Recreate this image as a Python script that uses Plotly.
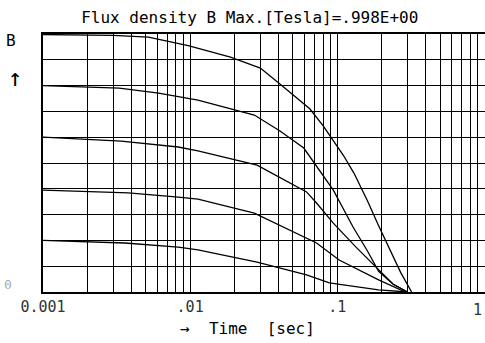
import plotly.graph_objects as go

# ---- data ----
t1 = [0.001, 0.003, 0.0052, 0.0097, 0.0188, 0.030, 0.040, 0.050, 0.065, 0.080, 0.095, 0.110, 0.130, 0.160, 0.190, 0.230, 0.270, 0.320]
b1 = [0.998, 0.995, 0.988, 0.955, 0.910, 0.868, 0.810, 0.765, 0.710, 0.645, 0.585, 0.530, 0.460, 0.355, 0.260, 0.160, 0.075, 0.0]

t2 = [0.001, 0.0033, 0.0061, 0.0113, 0.0273, 0.0408, 0.0592, 0.069, 0.094, 0.128, 0.160, 0.191, 0.240, 0.300]
b2 = [0.800, 0.790, 0.771, 0.744, 0.686, 0.624, 0.558, 0.504, 0.395, 0.252, 0.160, 0.080, 0.030, 0.0]

t3 = [0.001, 0.0034, 0.0083, 0.0113, 0.0285, 0.0618, 0.0723, 0.094, 0.134, 0.191, 0.240, 0.300]
b3 = [0.600, 0.585, 0.562, 0.547, 0.492, 0.388, 0.345, 0.267, 0.174, 0.085, 0.030, 0.0]

t4 = [0.001, 0.0038, 0.0083, 0.0113, 0.0273, 0.0618, 0.0723, 0.103, 0.191, 0.290]
b4 = [0.395, 0.384, 0.368, 0.360, 0.306, 0.209, 0.190, 0.124, 0.047, 0.0]

t5 = [0.001, 0.0036, 0.0083, 0.0113, 0.0285, 0.0618, 0.0883, 0.191, 0.300]
b5 = [0.200, 0.190, 0.174, 0.163, 0.116, 0.066, 0.035, 0.008, 0.0]

x_grid = [m * 10 ** e for e in (-3, -2, -1) for m in range(1, 10)] + [1.0]
x_labels = {0.001: "0.001", 0.01: ".01", 0.1: ".1"}
x_end_label = "1"
y_grid = [i / 10 for i in range(11)]

title_text = "Flux density B Max.[Tesla]=.998E+00"
x_title = "\u2192  Time  [sec]"

FONT = "DejaVu Sans Mono"

fig = go.Figure()
for t, b in [(t1, b1), (t2, b2), (t3, b3), (t4, b4), (t5, b5)]:
    fig.add_trace(go.Scatter(x=t, y=b, mode="lines",
                             line=dict(color="black", width=1.3),
                             showlegend=False, hoverinfo="skip"))

tick_text = [x_labels.get(round(v, 6), "") for v in x_grid]

fig.update_layout(
    width=485, height=343,
    margin=dict(l=43, r=0, t=34, b=51),
    paper_bgcolor="white", plot_bgcolor="white",
    font=dict(family=FONT, size=15, color="black"),
    title=dict(text=title_text, x=0.515, xref="container", xanchor="center",
               y=1 - 17 / 343, yref="container", yanchor="middle",
               font=dict(family=FONT, size=16, color="black")),
    xaxis=dict(type="log", range=[-3, 0.004], automargin=False,
               tickvals=x_grid, ticktext=tick_text, ticks="",
               showgrid=True, gridcolor="black", gridwidth=1.3,
               showline=True, linecolor="black", linewidth=1.5, mirror=True,
               zeroline=False, tickfont=dict(family=FONT, size=15, color="#333")),
    yaxis=dict(range=[0, 1], tickvals=y_grid, showticklabels=False, ticks="",
               automargin=False,
               showgrid=True, gridcolor="black", gridwidth=1.3,
               showline=True, linecolor="black", linewidth=1.5, mirror=True,
               zeroline=False),
)

fig.add_annotation(text=x_end_label, xref="paper", yref="paper",
                   x=1.0, y=-0.07, xanchor="right", yanchor="middle", xshift=-1,
                   showarrow=False, font=dict(family=FONT, size=15, color="#333"))
fig.add_annotation(text=x_title, xref="paper", yref="paper",
                   x=0.463, y=-0.14, xanchor="center", yanchor="middle",
                   showarrow=False, font=dict(family=FONT, size=16, color="black"))
fig.add_annotation(text="B", xref="paper", yref="paper",
                   x=-0.072, y=0.975, xanchor="center", yanchor="middle",
                   showarrow=False, font=dict(family=FONT, size=16, color="black"))
fig.add_annotation(text="\u2191", xref="paper", yref="paper",
                   x=-0.064, y=0.83, xanchor="center", yanchor="middle",
                   showarrow=False, font=dict(family=FONT, size=24, color="black"))
fig.add_annotation(text="0", xref="paper", yref="paper",
                   x=-0.08, y=0.03, xanchor="center", yanchor="middle",
                   showarrow=False, font=dict(family=FONT, size=13, color="#aaa"))

fig.write_html("out.html", config={"displayModeBar": False},
               post_script="document.body.style.margin='0';document.body.style.overflow='hidden';")
